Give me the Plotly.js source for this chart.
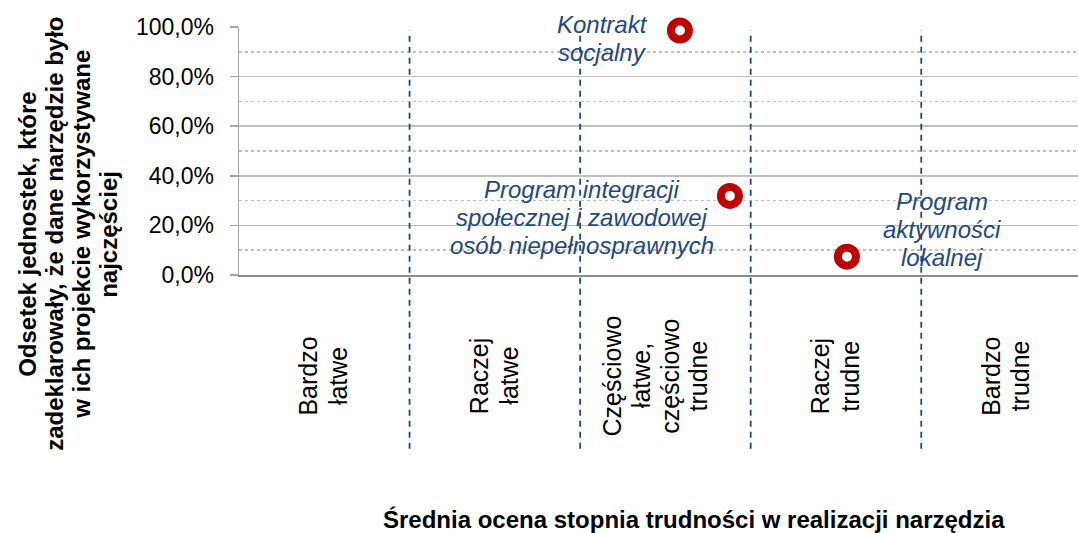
<!DOCTYPE html>
<html>
<head>
<meta charset="utf-8">
<script src="https://cdn.plot.ly/plotly-3.0.1.min.js"></script>
<style>html,body{margin:0;padding:0;background:#fff;overflow:hidden}#chart{width:1078px;height:533px}</style>
</head>
<body>
<div id="chart"></div>
<script>
// ---- data ----
const categories = ["Bardzo<br>łatwe", "Raczej<br>łatwe", "Częściowo<br>łatwe,<br>częściowo<br>trudne", "Raczej<br>trudne", "Bardzo<br>trudne"];
const toolNames = ["Kontrakt<br>socjalny", "Program integracji<br>społecznej i zawodowej<br>osób niepełnosprawnych", "Program<br>aktywności<br>lokalnej"];
const difficulty = [3.085, 3.378, 4.064];
const share = [0.986, 0.319, 0.074];
const yTitle = "Odsetek jednostek, które<br>zadeklarowały, że dane narzędzie było<br>w ich projekcie wykorzystywane<br>najczęściej";
const xTitle = "Średnia ocena stopnia trudności w realizacji narzędzia";

// ---- styling / placement (not data) ----
const labelShift = [[-77, -8], [-148, -21.5], [95, 27.5]];
const blue = "#1F497D";
const font = "Liberation Sans, Arial, sans-serif";
const plotLeft = 239.3;

const trace = {
  type: "scatter", mode: "markers",
  x: difficulty, y: share,
  marker: {size: 18, color: "#ffffff", line: {color: "#C00000", width: 8}},
  hoverinfo: "skip", showlegend: false, cliponaxis: false
};

const annotations = [];
// point labels (one annotation per line for tighter line spacing)
toolNames.forEach((t, i) => {
  const lines = t.split("<br>");
  const n = lines.length;
  lines.forEach((ln, j) => annotations.push({
    x: difficulty[i], y: share[i], xref: "x", yref: "y", text: ln, showarrow: false,
    xshift: labelShift[i][0], yshift: labelShift[i][1] - (j - (n - 1) / 2) * 28,
    xanchor: "center", yanchor: "middle",
    font: {family: font, size: 24, color: blue, style: "italic"}
  }));
});
// category labels below the plot, rotated
categories.forEach((c, i) => {
  const lines = c.split("<br>");
  const n = lines.length;
  const gap = n > 2 ? 28.7 : 29.5;
  const off = n > 2 ? -10 : -1;
  lines.forEach((ln, j) => annotations.push({
    x: i + 1, y: -0.4076, xref: "x", yref: "paper", text: ln, showarrow: false,
    xshift: off + (j - (n - 1) / 2) * gap,
    textangle: -90, xanchor: "center", yanchor: "middle",
    font: {family: font, size: 25, color: "#000"}
  }));
});
// y-axis title
const yLines = yTitle.split("<br>");
const yLinePx = [27, 54, 81, 108];
yLines.forEach((ln, j) => annotations.push({
  x: 0, y: 0.1647, xref: "paper", yref: "paper", text: ln, showarrow: false,
  xshift: yLinePx[j] - plotLeft, textangle: -90, xanchor: "center", yanchor: "middle",
  font: {family: font, size: 24, color: "#000", weight: "bold"}
}));
// x-axis title
annotations.push({
  x: 0.5422, y: -0.986, xref: "paper", yref: "paper", text: xTitle, showarrow: false,
  xanchor: "center", yanchor: "middle",
  font: {family: font, size: 24, color: "#000", weight: "bold"}
});

const shapes = [];
for (let i = 1; i < categories.length; i++) {
  shapes.push({type: "line", xref: "x", yref: "paper", x0: i + 0.5, x1: i + 0.5, y0: -0.7008, y1: 0.986,
    line: {color: blue, width: 1.8, dash: "6px,5px"}, layer: "above"});
}

const layout = {
  width: 1078, height: 533,
  margin: {l: plotLeft, r: 0, t: 26.5, b: 257.5, pad: 0},
  paper_bgcolor: "#fff", plot_bgcolor: "#fff",
  separators: ", ",
  font: {family: font, color: "#000"},
  xaxis: {range: [0.5, 5.419], showgrid: false, zeroline: false, showticklabels: false, ticks: "",
    showline: true, linecolor: "#8C8C8C", linewidth: 2, fixedrange: true},
  yaxis: {range: [0, 1], dtick: 0.2, tick0: 0, tickformat: ".1%", showgrid: true, gridcolor: "#BFBFBF", gridwidth: 1.5,
    zeroline: false, showline: true, linecolor: "#A6A6A6", linewidth: 1.5, ticks: "outside", ticklen: 8, tickcolor: "#A6A6A6",
    tickwidth: 1.5, ticklabelstandoff: 11, tickfont: {family: font, size: 23, color: "#000"},
    minor: {dtick: 0.1, tick0: 0, showgrid: true, gridcolor: "#BFBFBF", gridwidth: 1.5, griddash: "dot", ticks: ""},
    fixedrange: true},
  annotations: annotations,
  shapes: shapes
};

Plotly.newPlot("chart", [trace], layout, {displayModeBar: false, staticPlot: true});
</script>
</body>
</html>
